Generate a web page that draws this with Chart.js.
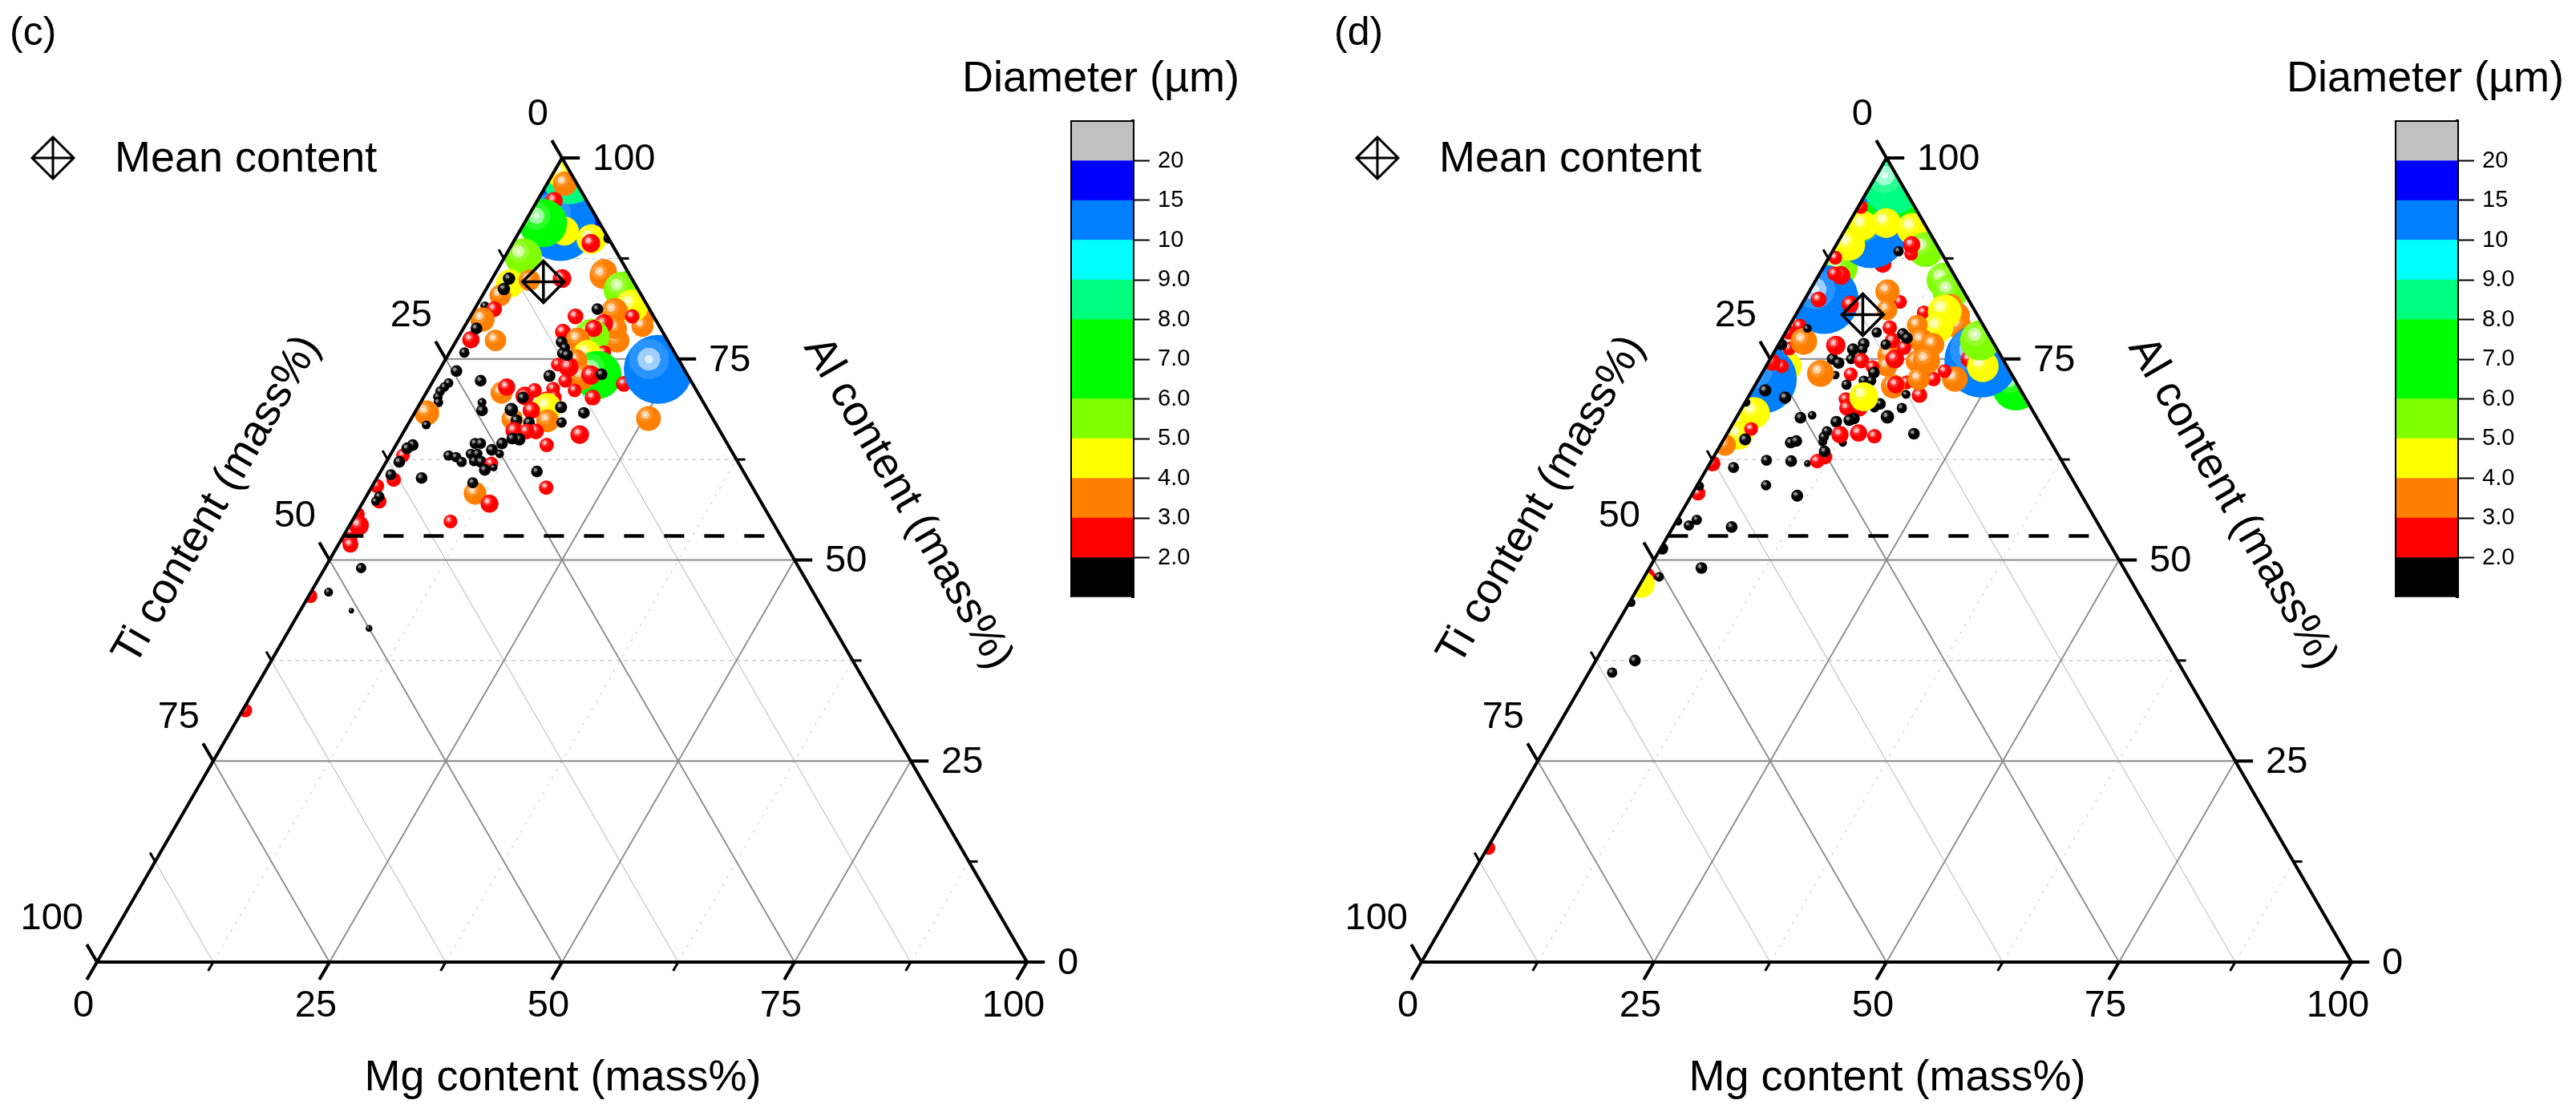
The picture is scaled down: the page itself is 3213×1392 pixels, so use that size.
<!DOCTYPE html>
<html lang="en">

<head>
  <meta charset="UTF-8" />
  <title>Inclusion composition, ternary Mg-Al-Ti diagrams</title>
  <script src="https://cdn.jsdelivr.net/npm/chart.js"></script>
  <style>
    body {
      margin: 0;
      background: #fff;
    }

    canvas {
      position: absolute;
    }
  </style>
</head>

<body>
  <canvas id="ternaryC" width="1560" height="1392" style="left:0;top:0"></canvas>
  <canvas id="barC" width="160" height="598" style="left:1334px;top:149px"></canvas>
  <canvas id="ternaryD" width="1560" height="1392" style="left:1652px;top:0"></canvas>
  <canvas id="barD" width="160" height="598" style="left:2986px;top:149px"></canvas>

  <script>
    // Panel (c): Mg and Al content (mass%), diameter (um), in drawing order
    const cMg = [2.5, 4.0, 1.9, 1.1, 1.9, 1.8, 4.8, 2.0, 8.2, 8.4, 10.0, 2.0, 2.2, 4.1, 7.5, 1.9, 1.8, 1.9, 11.6, 11.7,
      15.8, 14.6, 18.6, 19.1, 16.7, 15.2, 17.4, 13.2, 11.3, 10.9, 16.7, 17.3, 16.4, 14.8, 14.3, 14.0, 13.0, 16.6, 14.9, 17.3,
      14.1, 15.7, 12.4, 13.7, 16.6, 17.7, 11.4, 12.1, 12.2, 12.8, 14.2, 15.8, 18.2, 20.7, 23.5, 25.5, 12.2, 1.9, 5.1, 18.2,
      19.1, 16.2, 16.8, 18.8, 11.5, 13.7, 10.6, 10.6, 4.8, 1.6, 4.2, 0.9, 2.1, 1.5, 1.5, 1.4, 1.8, 1.6, 1.4, 1.5,
      1.9, 1.3, 2.0, 1.4, 1.8, 1.4, 1.4, 1.9, 1.3, 0.5, 1.7, 1.4, 1.3, 0.2, 1.0, 0.9, 1.3, 8.1, 8.3, 6.6,
      7.1, 10.8, 10.7, 11.5, 13.4, 14.1, 13.2, 13.9, 14.8, 15.4, 16.4, 12.4, 10.9, 10.2, 11.4, 12.9, 11.8, 14.2, 13.2, 12.9,
      12.1, 8.4, 9.0, 11.3, 10.6, 11.7, 6.3, 7.2, 8.1, 8.6, 9.3, 9.4, 10.2, 11.4, 11.1, 11.9, 3.9, 1.9, 0.2, 5.5,
      8.5, 0.3];
    const cAl = [96.1, 91.6, 97.9, 98.0, 96.8, 94.7, 90.9, 91.9, 89.9, 89.4, 90.0, 87.7, 84.4, 84.8, 85.0, 82.9, 85.0, 83.7, 85.8, 85.4,
      83.4, 83.6, 80.4, 79.1, 81.6, 80.9, 80.3, 81.2, 80.3, 78.4, 76.9, 77.3, 78.8, 79.4, 77.8, 78.8, 77.4, 75.8, 75.6, 73.0,
      74.8, 72.8, 74.3, 74.0, 73.0, 73.1, 77.1, 76.4, 75.7, 75.5, 72.3, 71.1, 70.2, 71.9, 73.7, 67.6, 72.9, 73.5, 72.3, 68.3,
      65.6, 64.3, 61.0, 59.0, 58.3, 57.0, 59.6, 54.8, 60.2, 75.8, 77.3, 81.6, 81.2, 79.9, 77.4, 78.8, 72.0, 71.5, 71.0, 70.3,
      69.6, 68.3, 66.8, 63.0, 64.3, 63.9, 62.2, 60.0, 60.6, 59.2, 57.3, 57.9, 57.3, 55.7, 54.3, 52.5, 51.9, 70.8, 71.5, 69.6,
      68.6, 70.4, 70.2, 71.1, 71.3, 70.2, 70.1, 69.0, 67.3, 69.0, 67.1, 68.6, 67.5, 68.7, 67.4, 67.1, 66.1, 66.0, 66.0, 65.0,
      65.1, 64.5, 64.5, 64.5, 63.7, 63.2, 63.0, 62.8, 62.2, 63.2, 63.2, 62.3, 62.2, 62.0, 61.2, 61.5, 49.0, 46.0, 45.5, 43.7,
      41.5, 31.3];
    const cDia = [15, 10.3, 8.5, 4.5, 3.5, 2.5, 4.2, 7.0, 4.3, 2.7, 1.5, 5.4, 4.1, 3.1, 2.7, 3.1, 1.8, 1.8, 3.8, 3.9,
      6.2, 5.2, 3.3, 3.2, 4.8, 3.9, 2.1, 1.7, 2.3, 2.3, 2.1, 3.5, 3.2, 2.7, 5.1, 2.5, 3.5, 2.1, 4.1, 7.0,
      3.3, 3.9, 2.0, 2.9, 2.8, 1.7, 1.7, 1.5, 1.6, 1.7, 2.0, 2.0, 2.3, 2.3, 10, 3.6, 1.75, 1.7, 1.7, 1.7,
      2.7, 2.1, 1.7, 2.1, 3.3, 2.6, 1.6, 2.0, 1.7, 1.5, 3.1, 1.3, 2.3, 3.5, 2.5, 1.7, 1.4, 1.4, 1.4, 1.4,
      1.4, 3.6, 1.3, 2.0, 1.7, 1.7, 1.7, 2.1, 1.6, 2.1, 2.1, 1.5, 1.3, 2.0, 2.9, 2.3, 2.3, 3.2, 2.5, 1.3,
      1.7, 2.7, 1.7, 2.1, 2.0, 2.1, 2.0, 4.1, 3.3, 1.75, 1.5, 2.5, 3.1, 1.95, 1.7, 1.7, 2.5, 2.3, 2.3, 1.8,
      1.7, 1.6, 1.6, 1.7, 1.7, 1.25, 1.5, 1.5, 1.5, 1.5, 1.5, 1.5, 1.7, 2.0, 1.7, 1.1, 1.5, 1.3, 2.0, 0.8,
      1.0, 2.0];

    // Panel (d)
    const dMg = [1.8, 2.2, 6.2, 3.0, 4.6, 0.9, 2.3, 1.7, 4.0, 1.4, 7.2, 9.9, 0.3, 7.1, 8.6, 8.1, 2.1, 0.7, 2.4, 1.6,
      1.5, 5.2, 13.8, 15.2, 10.4, 8.4, 9.5, 13.6, 16.1, 17.4, 18.2, 15.8, 16.1, 28.1, 22.8, 21.4, 23.3, 21.4, 21.1, 16.1,
      18.8, 19.5, 18.3, 12.5, 13.0, 14.9, 13.7, 15.1, 16.6, 15.9, 16.9, 17.2, 13.4, 15.1, 12.0, 10.9, 13.7, 9.8, 12.7, 13.4,
      11.5, 9.1, 8.3, 9.3, 8.7, 6.7, 7.6, 6.2, 9.9, 8.0, 6.3, 9.6, 11.5, 12.0, 11.4, 12.2, 9.8, 14.6, 14.2, 10.6,
      11.3, 12.7, 12.4, 16.2, 17.2, 16.8, 12.7, 12.3, 11.0, 6.9, 8.0, 0.4, 4.0, 1.4, 1.7, 0.4, 1.1, 1.4, 0.3, 2.5,
      2.1, 0.3, 1.6, 1.3, 2.3, 0.1, 2.3, 0.5, 0.3, 2.8, 5.9, 8.6, 10.5, 12.0, 11.4, 11.6, 10.8, 10.6, 10.6, 13.0,
      12.2, 14.1, 16.0, 7.4, 7.9, 20.1, 7.4, 11.4, 6.3, 2.1, 1.6, 0.2, 0.6, 0.3, 0.2, 5.6, 0.2, 0.1, 1.6, 0.2,
      4.2, 2.5, 0.1];
    const dAl = [86.3, 74.1, 86.8, 90.7, 94.1, 92.1, 96.7, 91.6, 91.9, 89.2, 91.2, 88.6, 93.9, 88.4, 88.1, 89.2, 82.4, 87.6, 85.4, 85.6,
      82.4, 81.8, 84.8, 83.3, 82.1, 83.4, 81.1, 80.8, 81.8, 80.4, 79.1, 80.9, 78.9, 71.6, 74.8, 75.0, 74.1, 77.3, 72.5, 72.1,
      72.5, 73.5, 70.5, 75.5, 74.1, 71.6, 79.2, 77.3, 76.8, 74.7, 74.8, 72.5, 75.0, 71.8, 77.3, 78.9, 76.4, 78.3, 78.1, 77.6,
      76.8, 76.9, 76.2, 76.2, 75.0, 75.0, 74.5, 76.7, 74.8, 73.0, 73.2, 73.1, 74.0, 73.3, 72.3, 72.3, 71.8, 69.4, 69.0, 70.0,
      68.9, 68.8, 70.3, 67.8, 68.9, 70.6, 67.6, 67.4, 67.2, 67.7, 68.0, 72.5, 70.2, 71.1, 74.1, 74.6, 79.1, 76.3, 78.3, 77.2,
      78.8, 76.8, 68.3, 65.5, 66.3, 69.6, 65.0, 64.3, 62.0, 61.5, 62.4, 62.3, 62.0, 62.8, 62.3, 63.5, 64.7, 65.3, 66.0, 64.6,
      65.6, 65.8, 65.4, 64.6, 64.8, 65.7, 59.3, 58.0, 54.1, 55.0, 54.3, 54.8, 58.3, 59.2, 48.0, 49.0, 51.4, 47.0, 47.9, 44.7,
      37.5, 36.0, 14.2];
    const dDia = [5.2, 4.4, 2.5, 10.3, 6.1, 6.1, 8.7, 4.2, 4.3, 4.6, 4.6, 5.1, 2.0, 1.5, 2.0, 2.5, 10.0, 2.0, 2.7, 2.1,
      2.3, 2.5, 5.1, 5.1, 2.0, 3.5, 3.0, 2.0, 3.0, 3.7, 3.7, 4.9, 4.4, 7.0, 10.7, 2.5, 4.6, 5.8, 3.7, 2.0,
      2.1, 2.0, 2.25, 3.3, 3.0, 3.5, 3.0, 3.5, 3.3, 3.2, 3.95, 3.2, 2.7, 2.5, 2.25, 2.1, 2.1, 1.5, 1.7, 1.7,
      1.5, 1.7, 1.75, 1.5, 1.5, 1.7, 1.7, 2.8, 2.25, 1.25, 3.9, 2.0, 2.0, 1.7, 1.5, 1.5, 1.5, 1.7, 1.5, 2.0,
      2.25, 2.25, 4.2, 1.95, 1.5, 1.3, 1.7, 1.7, 1.7, 1.7, 1.25, 10, 1.8, 1.8, 2.0, 2.5, 2.1, 2.0, 2.1, 3.9,
      1.25, 1.7, 4.6, 4.2, 2.0, 1.25, 1.75, 3.1, 2.3, 1.6, 1.6, 1.7, 1.0, 2.1, 2.1, 1.7, 1.3, 1.5, 1.5, 1.2,
      2.5, 2.5, 2.1, 1.7, 1.7, 1.7, 1.5, 1.75, 1.7, 1.5, 1.5, 1.2, 2.1, 1.3, 2.5, 1.7, 1.7, 4.0, 1.4, 1.25,
      1.7, 1.5, 2.0];

    // Mean content marker of each panel
    const cMean = { mg: 5.7, al: 84.6 };
    const dMean = { mg: 7.2, al: 80.5 };

    // Axis values
    const majorTicks = [0, 25, 50, 75, 100];
    const minorTicks = [12.5, 37.5, 62.5, 87.5];
    const limitAl = 53; // dashed line

    // Colour scale
    const levelEdges = [2, 3, 4, 5, 6, 7, 8, 9, 10, 15, 20];
    const levelLabels = ['2.0', '3.0', '4.0', '5.0', '6.0', '7.0', '8.0', '9.0', '10', '15', '20'];
    const levelColors = ['#000000', '#ff0000', '#ff8000', '#ffff00', '#80ff00', '#00ff00', '#00ff00',
      '#00ff80', '#00ffff', '#0080ff', '#0000ff', '#c0c0c0'];

    const FONT = '"Liberation Sans", Arial, sans-serif';
    const PX_PER_UM = 4.3; // bubble radius per um of diameter

    function levelColor(d) {
      let i = 0;
      while (i < levelEdges.length && d >= levelEdges[i]) i++;
      return levelColors[i];
    }

    // Ternary to cartesian: the x scale is Mg shifted by half of Al, y scale is Al
    const tern = (mg, al) => ({ x: mg + al / 2, y: al });

    function mix(hex, amount) {
      const n = parseInt(hex.slice(1), 16);
      const c = [n >> 16, (n >> 8) & 255, n & 255].map(v => Math.round(v + (255 - v) * amount));
      return `rgb(${c[0]},${c[1]},${c[2]})`;
    }

    // Sphere look of the markers: stepped rings round an offset highlight
    function sphereFill(context) {
      const raw = context.raw;
      if (!raw) return '#000';
      const chart = context.chart;
      const base = levelColor(raw.dia);
      const hx = chart.scales.x.getPixelForValue(raw.x) - raw.r * 0.27;
      const hy = chart.scales.y.getPixelForValue(raw.y) - raw.r * 0.3;
      // options are also read once before the scales have been laid out
      if (!isFinite(hx) || !isFinite(hy)) return base;
      const g = chart.ctx.createRadialGradient(hx, hy, 0, hx, hy, raw.r);
      const black = base === '#000000';
      const rings = black ? [[0.3, 0.55], [0.55, 0.12], [1, 0]] : [[0.12, 0.88], [0.33, 0.62], [0.58, 0.16], [1, 0]];
      let from = 0;
      rings.forEach(([to, amount]) => {
        g.addColorStop(from, mix(base, amount));
        g.addColorStop(to, mix(base, amount));
        from = to;
      });
      return g;
    }

    function segment(a, b, style) {
      return Object.assign({
        type: 'scatter',
        showLine: true,
        data: [a, b],
        pointRadius: 0,
        clip: false,
        borderColor: '#000',
        borderWidth: 4,
        order: 1
      }, style);
    }

    function gridDatasets() {
      const sets = [];
      const major = { borderColor: '#8a8a8a', borderWidth: 1.8, order: 3 };
      const minorSolid = { borderColor: '#c4c4c4', borderWidth: 1.2, order: 3 };
      const minorDash = { borderColor: '#c0c0c0', borderWidth: 1.2, borderDash: [5, 5], order: 3 };
      const minorDot = { borderColor: '#cfcfcf', borderWidth: 1.2, borderDash: [3, 8], order: 3 };
      majorTicks.slice(1, 4).forEach(v => {
        sets.push(segment(tern(0, v), tern(100 - v, v), Object.assign({}, major, { borderWidth: 2.2 })));
        sets.push(segment(tern(v, 0), tern(0, v), major));
        sets.push(segment(tern(v, 0), tern(v, 100 - v), major));
      });
      minorTicks.forEach(v => {
        // the reference has no horizontal line at Al = 12.5
        if (v > 12.5) sets.push(segment(tern(0, v), tern(100 - v, v), minorDash));
        sets.push(segment(tern(v, 0), tern(0, v), minorSolid));
        sets.push(segment(tern(v, 0), tern(v, 100 - v), minorDot));
      });
      return sets;
    }

    function frameDatasets() {
      const sets = [
        segment(tern(0, 0), tern(100, 0)),
        segment(tern(100, 0), tern(0, 100)),
        segment(tern(0, 100), tern(0, 0)),
        segment(tern(0, limitAl), tern(100 - limitAl, limitAl), { borderDash: [25, 25], borderWidth: 4.5 })
      ];
      const addTicks = (values, len, width) => values.forEach(v => {
        const style = { borderWidth: width };
        // Al axis: to the right
        let p = tern(100 - v, v);
        sets.push(segment(p, { x: p.x + len * 0.87, y: p.y }, style));
        // Ti axis: up and to the left
        p = tern(0, v);
        sets.push(segment(p, { x: p.x - len * 0.5, y: p.y + len }, style));
        // Mg axis: down and to the left
        p = tern(v, 0);
        sets.push(segment(p, { x: p.x - len * 0.5, y: p.y - len }, style));
      });
      addTicks(majorTicks, 2.2, 4);
      addTicks(minorTicks, 1.1, 3);
      return sets;
    }

    // Keep the spheres inside the triangle
    const triangleClip = {
      id: 'triangleClip',
      beforeDatasetDraw(chart, args) {
        if (args.meta.type !== 'bubble') return;
        const { x, y } = chart.scales;
        const c = chart.ctx;
        c.save();
        c.beginPath();
        c.moveTo(x.getPixelForValue(0), y.getPixelForValue(0));
        c.lineTo(x.getPixelForValue(100), y.getPixelForValue(0));
        c.lineTo(x.getPixelForValue(50), y.getPixelForValue(100));
        c.closePath();
        c.clip();
      },
      afterDatasetDraw(chart, args) {
        if (args.meta.type === 'bubble') chart.ctx.restore();
      }
    };

    function textPlugin(panelLabel) {
      return {
        id: 'panelText',
        afterDraw(chart) {
          const c = chart.ctx;
          const { x, y } = chart.scales;
          const px = p => [x.getPixelForValue(p.x), y.getPixelForValue(p.y)];
          const put = (s, tx, ty, size, align, angle) => {
            c.save();
            c.translate(tx, ty);
            if (angle) c.rotate(angle);
            c.font = `${size}px ${FONT}`;
            c.fillStyle = '#000';
            c.textAlign = align || 'center';
            c.textBaseline = 'middle';
            c.fillText(s, 0, 0);
            c.restore();
          };

          majorTicks.forEach(v => {
            let [a, b] = px(tern(100 - v, v));
            put(String(v), a + 38, b + 2, 47, 'left');
            [a, b] = px(tern(0, 100 - v));
            put(String(v), a - 17, b - 54, 47, 'right');
            [a, b] = px(tern(v, 0));
            put(String(v), a - 17, b + 55, 47);
          });

          put(panelLabel, 12, 42, 50, 'left');
          put('Mg content (mass%)', 702, 1345, 54);
          put('Ti content (mass%)', 271, 624, 54, 'center', -Math.PI / 3);
          put('Al content (mass%)', 1132, 628, 54, 'center', Math.PI / 3);
          put('Mean content', 143, 199, 54, 'left');
          put('Diameter (\u00b5m)', 1373, 99, 54);

          // legend glyph
          c.save();
          c.strokeStyle = '#000';
          c.lineWidth = 3;
          c.beginPath();
          c.moveTo(66, 171); c.lineTo(92, 197); c.lineTo(66, 223); c.lineTo(40, 197); c.closePath();
          c.moveTo(66, 171); c.lineTo(66, 223);
          c.moveTo(40, 197); c.lineTo(92, 197);
          c.stroke();
          c.restore();
        }
      };
    }

    function ternaryChart(id, panelLabel, mg, al, dia, mean) {
      const points = mg.map((m, i) => Object.assign(tern(m, al[i]), { r: dia[i] * PX_PER_UM, dia: dia[i] }));
      const meanStyle = {
        type: 'scatter',
        data: [tern(mean.mg, mean.al)],
        pointRadius: 26,
        pointBorderColor: '#000',
        pointBackgroundColor: 'transparent',
        pointBorderWidth: 3.5,
        clip: false,
        order: 0
      };
      new Chart(document.getElementById(id), {
        type: 'bubble',
        data: {
          datasets: [
            Object.assign({}, meanStyle, { pointStyle: 'rectRot' }),
            Object.assign({}, meanStyle, { pointStyle: 'cross' }),
            ...frameDatasets(),
            { data: points, backgroundColor: sphereFill, borderWidth: 0, clip: false, order: 2 },
            ...gridDatasets()
          ]
        },
        options: {
          responsive: false,
          animation: false,
          devicePixelRatio: 1,
          events: [],
          layout: { padding: { left: 121, right: 279, top: 197, bottom: 192 } },
          plugins: { legend: { display: false }, tooltip: { enabled: false } },
          scales: {
            x: { type: 'linear', min: 0, max: 100, display: false },
            y: { type: 'linear', min: 0, max: 100, display: false }
          }
        },
        plugins: [triangleClip, textPlugin(panelLabel)]
      });
    }

    const barOutline = {
      id: 'barOutline',
      afterDraw(chart) {
        const { left, right, top } = chart.chartArea;
        const c = chart.ctx;
        c.save();
        c.strokeStyle = '#000';
        c.lineWidth = 2;
        c.beginPath();
        c.moveTo(right, top); c.lineTo(left, top); c.lineTo(left, chart.scales.y.getPixelForValue(0));
        c.stroke();
        c.restore();
      }
    };

    function colorBar(id) {
      new Chart(document.getElementById(id), {
        type: 'bar',
        data: {
          labels: [''],
          datasets: levelColors.map(color => ({
            data: [1],
            backgroundColor: color,
            barPercentage: 1,
            categoryPercentage: 1
          }))
        },
        options: {
          responsive: false,
          animation: false,
          devicePixelRatio: 1,
          events: [],
          layout: { autoPadding: false, padding: { left: 2, top: 2, bottom: 2 } },
          plugins: { legend: { display: false }, tooltip: { enabled: false } },
          scales: {
            x: { stacked: true, display: false },
            y: {
              stacked: true,
              position: 'right',
              min: 0,
              max: levelColors.length,
              // no room kept for half a label above and below the bar
              afterFit: scale => {
                scale.width = 81;
                scale.paddingTop = 0;
                scale.paddingBottom = 0;
              },
              border: { color: '#000', width: 4 },
              grid: {
                drawOnChartArea: false,
                tickLength: 21,
                tickWidth: 2,
                tickColor: c => (c.tick && levelLabels[c.tick.value - 1] ? '#000' : 'transparent')
              },
              ticks: {
                stepSize: 1,
                autoSkip: false,
                padding: 10,
                crossAlign: 'near',
                color: '#000',
                font: { family: FONT, size: 29 },
                callback: v => levelLabels[v - 1] || ''
              }
            }
          }
        },
        plugins: [barOutline]
      });
    }

    ternaryChart('ternaryC', '(c)', cMg, cAl, cDia, cMean);
    ternaryChart('ternaryD', '(d)', dMg, dAl, dDia, dMean);
    colorBar('barC');
    colorBar('barD');
  </script>
</body>

</html>
